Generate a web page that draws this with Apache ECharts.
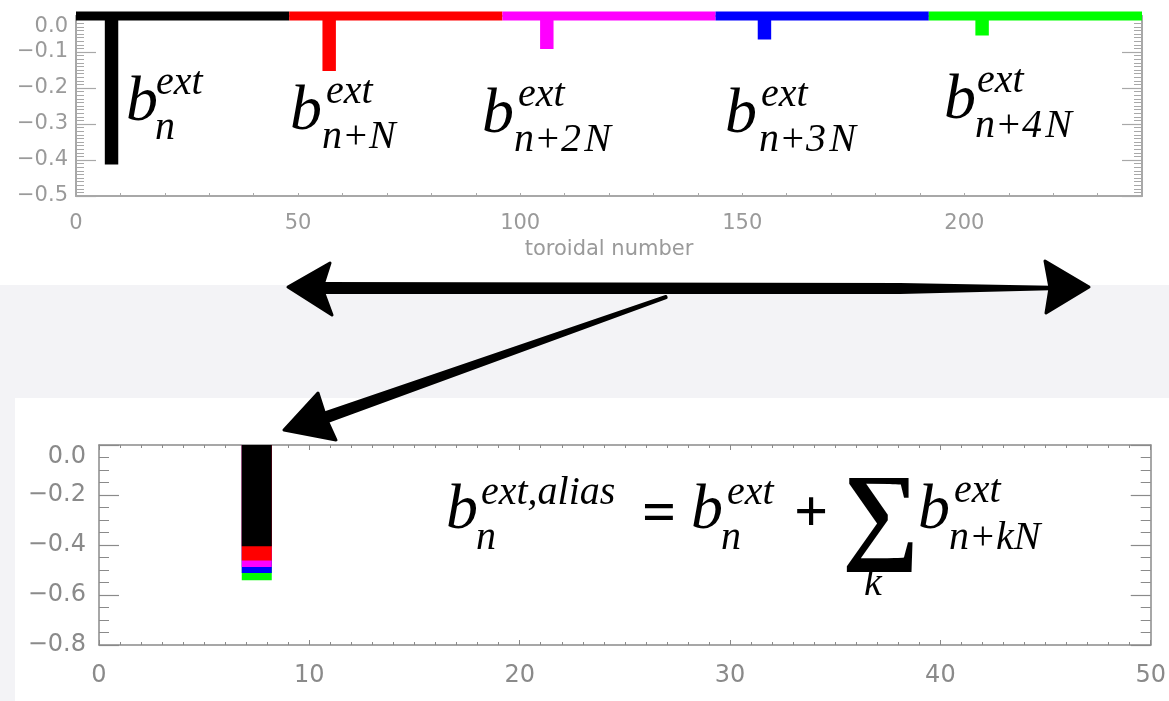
<!DOCTYPE html>
<html>
<head>
<meta charset="utf-8">
<script src="https://cdn.jsdelivr.net/npm/echarts@6/dist/echarts.min.js"></script>
<style>
  html, body { margin: 0; padding: 0; background: #ffffff; }
  #wrap { position: relative; width: 1169px; height: 701px; overflow: hidden; background: #ffffff; }
  .band { position: absolute; background: #f3f3f6; }
  #chart { position: absolute; left: 0; top: 0; width: 1169px; height: 701px; }
</style>
</head>
<body>
<div id="wrap">
  <div class="band" style="left:0;top:285px;width:1169px;height:113px"></div>
  <div class="band" style="left:0;top:398px;width:15px;height:303px"></div>
  <div id="chart"></div>
</div>
<script>
// ---- spectrum over the full toroidal range (five periods of N) ----
const segmentStart = [0, 48, 96, 144, 192];
const segmentEnd   = [48, 96, 144, 192, 240];
const spikeN       = [8, 57, 106, 155, 204];
const spikeValue   = [-0.40, -0.14, -0.079, -0.053, -0.042];

// ---- aliased coefficient: running sum b_n + b_{n+N} + ... ----
const aliasBin     = 7.5;
const aliasLevels  = [-0.405, -0.462, -0.488, -0.512, -0.541];

// ---- tick labels ----
const topXLabels    = [0, 50, 100, 150, 200];
const topYTicks     = [0.0, -0.1, -0.2, -0.3, -0.4, -0.5];
const bottomXLabels = [0, 10, 20, 30, 40, 50];
const bottomYTicks  = [0.0, -0.2, -0.4, -0.6, -0.8];

const palette = ['#000000', '#ff0000', '#ff00ff', '#0000ff', '#00ff00'];

function fmtY(v) {
  const s = Math.abs(v).toFixed(1);
  return v < -1e-9 ? '\u2212' + s : s;
}

const chart = echarts.init(document.getElementById('chart'), null, { renderer: 'canvas' });

const topAxisGray = '#a8a8a8';
const botAxisGray = '#8a8a8a';
const LABEL_FONT = '"DejaVu Sans", Verdana, sans-serif';

const xAxes = [
  // top panel, bottom edge
  {
    type: 'value', gridIndex: 0, position: 'bottom', min: 0, max: 240, interval: 10,
    name: 'toroidal number', nameLocation: 'middle', nameGap: 43,
    nameTextStyle: { color: '#9a9a9a', fontSize: 21, fontFamily: LABEL_FONT },
    axisLine: { show: true, onZero: false, lineStyle: { color: topAxisGray, width: 2 } },
    axisTick: { show: true, inside: true, length: 3, lineStyle: { color: topAxisGray } },
    axisLabel: {
      show: true, margin: 17, color: '#9a9a9a', fontSize: 21, fontFamily: LABEL_FONT,
      formatter: v => topXLabels.indexOf(v) >= 0 ? String(v) : ''
    },
    splitLine: { show: false }
  },
  // top panel, top edge
  {
    type: 'value', gridIndex: 0, position: 'top', min: 0, max: 240, interval: 10,
    axisLine: { show: true, onZero: false, lineStyle: { color: topAxisGray, width: 2 } },
    axisTick: { show: false }, axisLabel: { show: false }, splitLine: { show: false }
  },
  // bottom panel, bottom edge
  {
    type: 'value', gridIndex: 1, position: 'bottom', min: 0, max: 50, interval: 10,
    axisLine: { show: true, onZero: false, lineStyle: { color: botAxisGray, width: 1.5 } },
    axisTick: { show: true, inside: true, length: 5, lineStyle: { color: botAxisGray } },
    minorTick: { show: true, splitNumber: 10, length: 3, lineStyle: { color: botAxisGray } },
    axisLabel: {
      show: true, margin: 19, color: '#8a8a8a', fontSize: 24, fontFamily: LABEL_FONT,
      formatter: v => bottomXLabels.indexOf(v) >= 0 ? String(v) : ''
    },
    splitLine: { show: false }
  },
  // bottom panel, top edge
  {
    type: 'value', gridIndex: 1, position: 'top', min: 0, max: 50, interval: 10,
    axisLine: { show: true, onZero: false, lineStyle: { color: botAxisGray, width: 1.5 } },
    axisTick: { show: true, inside: true, length: 5, lineStyle: { color: botAxisGray } },
    minorTick: { show: true, splitNumber: 10, length: 3, lineStyle: { color: botAxisGray } },
    axisLabel: { show: false }, splitLine: { show: false }
  }
];

function yAxis(gridIndex, position, min, interval, minorSplit, color, lw, labelOpts) {
  return {
    type: 'value', gridIndex: gridIndex, position: position, min: min, max: 0, interval: interval,
    axisLine: { show: true, onZero: false, lineStyle: { color: color, width: lw } },
    axisTick: { show: true, inside: true, length: 20, lineStyle: { color: color, width: 1.2 } },
    minorTick: { show: true, splitNumber: minorSplit, length: gridIndex === 0 ? 8 : 10, lineStyle: { color: color } },
    axisLabel: labelOpts ? Object.assign({ show: true, formatter: fmtY, fontFamily: LABEL_FONT }, labelOpts) : { show: false },
    splitLine: { show: false }
  };
}

const yAxes = [
  yAxis(0, 'left', -0.5, 0.1, 10, topAxisGray, 2,
    { color: '#9a9a9a', fontSize: 21, margin: 8, verticalAlignMaxLabel: 'top' }),
  yAxis(0, 'right', -0.5, 0.1, 10, topAxisGray, 2, null),
  yAxis(1, 'left', -0.8, 0.2, 4, botAxisGray, 1.5,
    { color: '#8a8a8a', fontSize: 24, margin: 13, verticalAlignMaxLabel: 'top' }),
  yAxis(1, 'right', -0.8, 0.2, 4, botAxisGray, 1.5, null)
];

// Step-histogram path for one period: flat at zero with a single spike
function spectrumSegment(k) {
  const n = spikeN[k];
  return [
    [segmentStart[k], 0], [n - 1, 0], [n, spikeValue[k]], [n + 1, 0], [segmentEnd[k], 0]
  ];
}

const series = [];
for (let k = 0; k < 5; k++) {
  series.push({
    type: 'line', xAxisIndex: 0, yAxisIndex: 0, step: 'middle',
    data: spectrumSegment(k), showSymbol: false, symbol: 'none', clip: false, silent: true,
    lineStyle: { color: palette[k], width: 9, join: 'miter', cap: 'butt' },
    z: 3 + k
  });
}
// aliased sum: each running sum drawn from zero, deepest first so shallower ones sit on top
for (let k = 4; k >= 0; k--) {
  series.push({
    type: 'bar', xAxisIndex: 2, yAxisIndex: 2,
    data: [[aliasBin, aliasLevels[k]]],
    barWidth: 30, barGap: '-100%', silent: true,
    itemStyle: { color: palette[k] },
    z: 10 + (4 - k)
  });
}

// ---- formula annotations ----
const SERIF = '"Liberation Serif", "DejaVu Serif", serif';
function mtext(str, x, baseline, size, italic, bold) {
  return {
    type: 'text', x: x, y: baseline - 0.34 * size, z: 100, silent: true,
    style: {
      text: str, fill: '#000',
      font: (italic ? 'italic ' : '') + (bold ? 'bold ' : '') + size + 'px ' + SERIF,
      align: 'left', verticalAlign: 'middle'
    }
  };
}
function coeff(x, baseline, sup, sub, supDx, subDx) {
  return [
    mtext('b', x, baseline, 64, true),
    mtext(sup, x + supDx, baseline - 28, 40, true),
    mtext(sub, x + subDx, baseline + 17, 40, true)
  ];
}

function shaft(x1, y1, w1, x2, y2, w2) {
  const dx = x2 - x1, dy = y2 - y1, L = Math.hypot(dx, dy);
  const nx = -dy / L, ny = dx / L;
  return [
    [x1 + nx * w1 / 2, y1 + ny * w1 / 2], [x2 + nx * w2 / 2, y2 + ny * w2 / 2],
    [x2 - nx * w2 / 2, y2 - ny * w2 / 2], [x1 - nx * w1 / 2, y1 - ny * w1 / 2]
  ];
}
function poly(points, z) {
  return {
    type: 'polygon', z: z || 90, silent: true,
    shape: { points: points },
    style: { fill: '#000', stroke: '#000', lineWidth: 3, lineJoin: 'round' }
  };
}

const graphics = [].concat(
  coeff(126, 125, 'ext', 'n', 30, 29),
  coeff(290, 134, 'ext', 'n+N', 36, 32),
  coeff(482, 137, 'ext', 'n+2\u200AN', 36, 32),
  coeff(725, 137, 'ext', 'n+3\u200AN', 36, 34),
  coeff(944, 123, 'ext', 'n+4\u200AN', 33, 31),
  [
    mtext('b', 446, 533, 64, true),
    mtext('ext,alias', 481, 507, 40, true),
    mtext('n', 476, 552, 40, true),
    mtext('=', 642, 536, 60, false, true),
    mtext('b', 691, 533, 64, true),
    mtext('ext', 727, 507, 40, true),
    mtext('n', 721, 552, 40, true),
    mtext('+', 794, 536, 60, false, true),
    mtext('\u2211', 842, 558, 108, false, true),
    mtext('k', 864, 598, 40, true),
    mtext('b', 918, 533, 64, true),
    mtext('ext', 954, 505, 40, true),
    mtext('n+kN', 949, 552, 40, true)
  ],
  [
    // double-headed horizontal arrow
    poly(shaft(322, 288, 9, 900, 288.5, 8)),
    poly(shaft(900, 288.5, 8, 1050, 288, 1.5)),
    poly([[288, 287], [330, 263], [322, 288], [332, 315]]),
    poly([[1089, 287], [1045, 261], [1050, 288], [1046, 313]]),
    // diagonal arrow to the aliased panel
    poly(shaft(666, 297, 1, 324, 418, 9)),
    poly([[284, 430], [318, 393], [326, 418], [336, 440]])
  ]
);

chart.setOption({
  animation: false,
  backgroundColor: 'transparent',
  grid: [
    { left: 76, top: 16, width: 1066, height: 180, containLabel: false },
    { left: 99, top: 445, width: 1060, height: 200, containLabel: false }
  ],
  xAxis: xAxes,
  yAxis: yAxes,
  series: series,
  graphic: graphics
});
</script>
</body>
</html>
